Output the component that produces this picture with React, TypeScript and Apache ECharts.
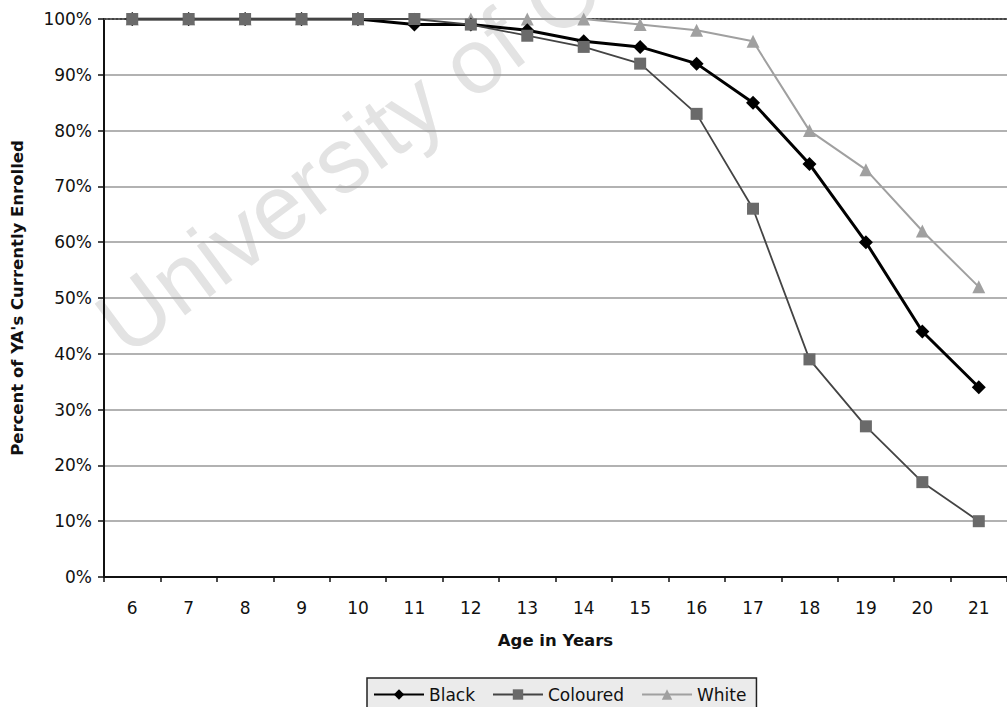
import React, { useEffect, useRef } from "react";
import * as echarts from "echarts";

const ages = ["6", "7", "8", "9", "10", "11", "12", "13", "14", "15", "16", "17", "18", "19", "20", "21"];
const black = [100, 100, 100, 100, 100, 99, 99, 98, 96, 95, 92, 85, 74, 60, 44, 34];
const coloured = [100, 100, 100, 100, 100, 100, 99, 97, 95, 92, 83, 66, 39, 27, 17, 10];
const white = [100, 100, 100, 100, 100, 100, 100, 100, 100, 99, 98, 96, 80, 73, 62, 52];
const yTitle = "Percent of YA's Currently Enrolled";
const xTitle = "Age in Years";
const watermark = "University of Cape Town";

export default function App() {
  const ref = useRef<HTMLDivElement>(null);
  useEffect(() => {
    if (!ref.current) return;
    const chart = echarts.init(ref.current, undefined, { renderer: "svg" });
    const font = "'DejaVu Sans', Arial, sans-serif";
    chart.setOption({
      animation: false,
      backgroundColor: "#ffffff",
      textStyle: { fontFamily: font },
      graphic: [
        {
          type: "text",
          x: 135,
          y: 370,
          rotation: 0.64,
          z: -10,
          silent: true,
          style: {
            text: watermark,
            font: "92px 'Liberation Sans', Arial, sans-serif",
            fill: "#e3e3e3",
            textAlign: "left",
            textVerticalAlign: "bottom",
          },
        },
      ],
      grid: { left: 104, top: 19, width: 913, height: 558, containLabel: false },
      legend: {
        left: 367,
        top: 678,
        data: ["Black", "Coloured", "White"],
        backgroundColor: "#ebebeb",
        borderColor: "#222",
        borderWidth: 1.5,
        borderRadius: 0,
        padding: [8, 10, 10, 6],
        itemGap: 17,
        itemWidth: 50,
        itemHeight: 13,
        textStyle: { fontSize: 17, color: "#111", fontFamily: font },
      },
      xAxis: [
        {
          type: "category",
          data: ages,
          boundaryGap: true,
          name: xTitle,
          nameLocation: "middle",
          nameGap: 55,
          nameTextStyle: { fontSize: 16.5, fontWeight: "bold", color: "#111", fontFamily: font },
          axisLine: { lineStyle: { color: "#111", width: 2 } },
          axisTick: { show: true, interval: 0, length: 5, lineStyle: { color: "#111", width: 1.5 } },
          axisLabel: { fontSize: 17, color: "#111", margin: 22, fontFamily: font },
          splitLine: { show: false },
        },
        {
          type: "category",
          data: ages,
          position: "top",
          axisLine: { show: true, lineStyle: { color: "#444", width: 2, type: "dotted" } },
          axisTick: { show: false },
          axisLabel: { show: false },
          splitLine: { show: false },
        },
      ],
      yAxis: {
        type: "value",
        min: 0,
        max: 100,
        interval: 10,
        name: yTitle,
        nameLocation: "middle",
        nameGap: 78,
        nameRotate: 90,
        nameTextStyle: { fontSize: 16.5, fontWeight: "bold", color: "#111", fontFamily: font },
        axisLine: { show: true, lineStyle: { color: "#111", width: 2 } },
        axisTick: { show: true, length: 6, lineStyle: { color: "#111", width: 1.5 } },
        axisLabel: { fontSize: 17, color: "#111", margin: 12, formatter: "{value}%", fontFamily: font },
        splitLine: { show: true, lineStyle: { color: "#999", width: 1.5 } },
      },
      series: [
        {
          name: "White",
          type: "line",
          data: white,
          z: 2,
          symbol: "triangle",
          symbolSize: 13,
          lineStyle: { color: "#a0a0a0", width: 2 },
          itemStyle: { color: "#a0a0a0" },
        },
        {
          name: "Black",
          type: "line",
          data: black,
          z: 3,
          symbol: "diamond",
          symbolSize: 14,
          lineStyle: { color: "#000", width: 3 },
          itemStyle: { color: "#000" },
        },
        {
          name: "Coloured",
          type: "line",
          data: coloured,
          z: 4,
          symbol: "rect",
          symbolSize: 12,
          lineStyle: { color: "#444", width: 1.8 },
          itemStyle: { color: "#6a6a6a" },
        },
      ],
    });
    return () => chart.dispose();
  }, []);
  return (
    <div
      ref={ref}
      style={{ position: "fixed", left: 0, top: 0, width: 1007, height: 707, background: "#fff" }}
    />
  );
}
